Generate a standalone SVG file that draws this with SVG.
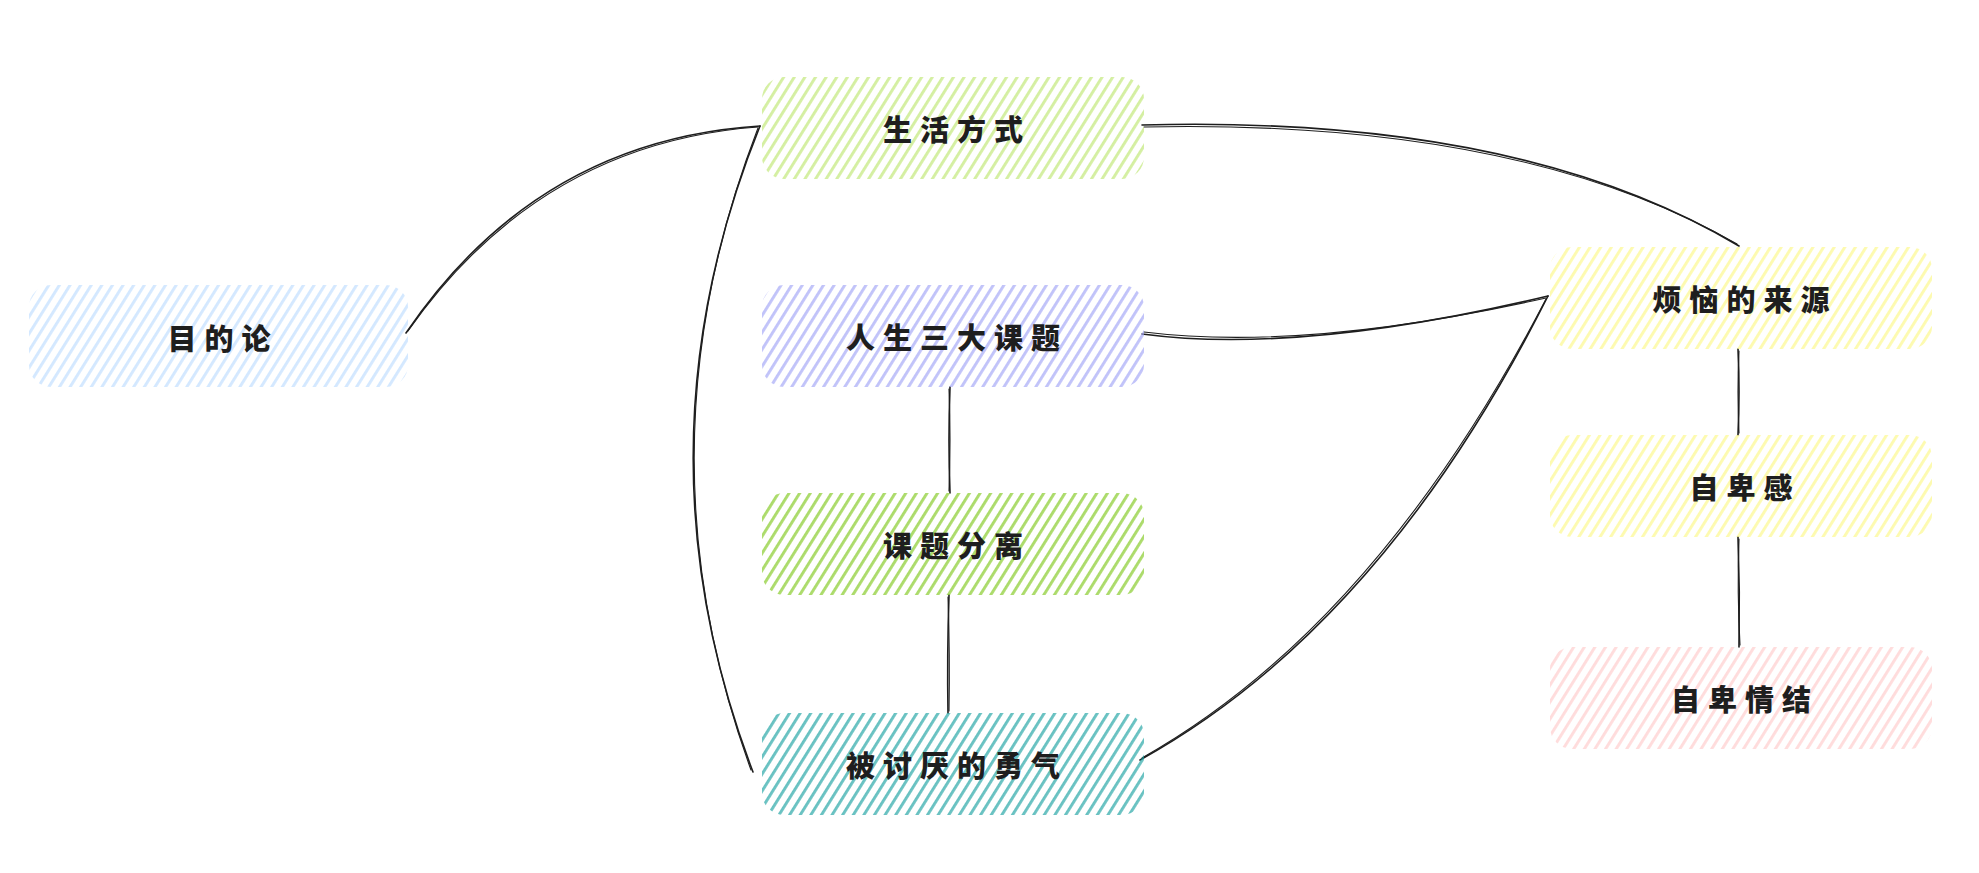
<svg xmlns="http://www.w3.org/2000/svg" width="1979" height="873" viewBox="0 0 1979 873">
<style>
.lbl{font-family:"Noto Sans CJK SC","Noto Sans",sans-serif;font-size:29px;font-weight:900;letter-spacing:8px;fill:#1e1e1e;text-anchor:middle;dominant-baseline:central}
.c{fill:none;stroke:#1e1e1e;stroke-width:1.6;stroke-linecap:round}
.c2{fill:none;stroke:#1e1e1e;stroke-width:1.1;stroke-linecap:round}
.hl{stroke-width:1.3;fill:none}
</style>
<defs>
<pattern id="hBlue" patternUnits="userSpaceOnUse" width="9" height="40" patternTransform="rotate(32)"><path class="hl" d="M3 0V40" stroke="#bcdcff"/><path d="M4.5 0V40" stroke="#bcdcff" stroke-width="0.6"/></pattern>
<pattern id="hLime" patternUnits="userSpaceOnUse" width="9" height="40" patternTransform="rotate(32)"><path class="hl" d="M3 0V40" stroke="#bde66f"/><path d="M4.5 0V40" stroke="#bde66f" stroke-width="0.6"/></pattern>
<pattern id="hViolet" patternUnits="userSpaceOnUse" width="9" height="40" patternTransform="rotate(32)"><path class="hl" d="M3 0V40" stroke="#9fa2f6"/><path d="M4.5 0V40" stroke="#9fa2f6" stroke-width="0.6"/></pattern>
<pattern id="hGreen" patternUnits="userSpaceOnUse" width="9" height="40" patternTransform="rotate(32)"><path class="hl" d="M3 0V40" stroke="#7ec71a"/><path d="M4.5 0V40" stroke="#7ec71a" stroke-width="0.6"/></pattern>
<pattern id="hTeal" patternUnits="userSpaceOnUse" width="9" height="40" patternTransform="rotate(32)"><path class="hl" d="M3 0V40" stroke="#17a0a0"/><path d="M4.5 0V40" stroke="#17a0a0" stroke-width="0.6"/></pattern>
<pattern id="hYellow" patternUnits="userSpaceOnUse" width="9" height="40" patternTransform="rotate(32)"><path class="hl" d="M3 0V40" stroke="#fcf884"/><path d="M4.5 0V40" stroke="#fcf884" stroke-width="0.6"/></pattern>
<pattern id="hPink" patternUnits="userSpaceOnUse" width="9" height="40" patternTransform="rotate(32)"><path class="hl" d="M3 0V40" stroke="#ffc9c9"/><path d="M4.5 0V40" stroke="#ffc9c9" stroke-width="0.6"/></pattern>
</defs>
<rect width="1979" height="873" fill="#ffffff"/>

<g id="connectors">
<path class="c" d="M406 333 Q537 140 760 126"/>
<path class="c2" d="M408 331 Q540 143 758 127"/>
<path class="c" d="M760 126 Q630 449 753 772"/>
<path class="c2" d="M758 128 Q634 449 751 770"/>
<path class="c" d="M1142 125 Q1520 115 1739 246"/>
<path class="c2" d="M1144 127 Q1518 119 1737 244"/>
<path class="c" d="M1142 334 Q1300 355 1548 296"/>
<path class="c2" d="M1144 332 Q1304 352 1546 298"/>
<path class="c" d="M1140 760 Q1382 626 1548 296"/>
<path class="c2" d="M1142 758 Q1376 626 1546 299"/>
<path class="c" d="M950 387 Q948 440 950 493"/>
<path class="c2" d="M949 389 Q951 440 949 491"/>
<path class="c" d="M949 595 Q947 655 948 713"/>
<path class="c2" d="M948 597 Q950 655 949 711"/>
<path class="c" d="M1738 349 Q1740 392 1738 435"/>
<path class="c2" d="M1739 351 Q1737 392 1739 433"/>
<path class="c" d="M1738 537 Q1740 592 1739 647"/>
<path class="c2" d="M1739 539 Q1737 592 1740 645"/>
</g>

<g id="node-mudilun">
<rect x="29" y="285" width="379" height="102" rx="22" fill="url(#hBlue)"/>
<text class="lbl" x="223" y="337">目的论</text>
</g>
<g id="node-shenghuofangshi">
<rect x="762" y="77" width="382" height="102" rx="22" fill="url(#hLime)"/>
<text class="lbl" x="957" y="128">生活方式</text>
</g>
<g id="node-rensheng">
<rect x="762" y="285" width="382" height="102" rx="22" fill="url(#hViolet)"/>
<text class="lbl" x="957" y="336">人生三大课题</text>
</g>
<g id="node-fenli">
<rect x="762" y="493" width="382" height="102" rx="22" fill="url(#hGreen)"/>
<text class="lbl" x="957" y="544">课题分离</text>
</g>
<g id="node-yongqi">
<rect x="762" y="713" width="382" height="102" rx="22" fill="url(#hTeal)"/>
<text class="lbl" x="957" y="764">被讨厌的勇气</text>
</g>
<g id="node-fannao">
<rect x="1550" y="247" width="382" height="102" rx="22" fill="url(#hYellow)"/>
<text class="lbl" x="1745" y="298">烦恼的来源</text>
</g>
<g id="node-zibeigan">
<rect x="1550" y="435" width="382" height="102" rx="22" fill="url(#hYellow)"/>
<text class="lbl" x="1745" y="486">自卑感</text>
</g>
<g id="node-zibeiqingjie">
<rect x="1550" y="647" width="382" height="102" rx="22" fill="url(#hPink)"/>
<text class="lbl" x="1745" y="698">自卑情结</text>
</g>
</svg>
